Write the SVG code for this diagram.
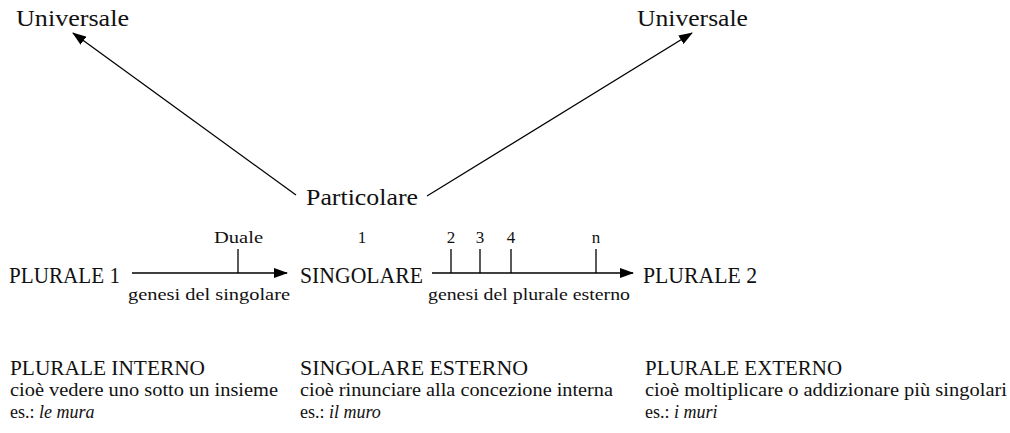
<svg xmlns="http://www.w3.org/2000/svg" width="1010" height="433" viewBox="0 0 1010 433">
<style>
text{font-family:"Liberation Serif","Times New Roman",serif;fill:#111;}
.xl{font-size:24px;}
.lg{font-size:23px;}
.hd{font-size:21px;}
.md{font-size:18px;}
.sm{font-size:17px;}
.it{font-style:italic;}
.ln{stroke:#000;stroke-width:1.3;fill:none;}
</style>
<defs>
<marker id="ah" viewBox="0 0 14 10" refX="13" refY="5" markerWidth="14" markerHeight="10" markerUnits="userSpaceOnUse" orient="auto">
<path d="M0,0 L14,5 L0,10 z" fill="#000"/>
</marker>
</defs>
<rect width="1010" height="433" fill="#fff"/>
<g id="universale-left"><text class="xl" x="16" y="26" textLength="113" lengthAdjust="spacingAndGlyphs">Universale</text></g>
<g id="universale-right"><text class="xl" x="637" y="26" textLength="111" lengthAdjust="spacingAndGlyphs">Universale</text></g>
<g id="particolare"><text class="xl" x="306" y="205" textLength="112" lengthAdjust="spacingAndGlyphs">Particolare</text></g>
<g id="plurale1"><text class="lg" x="9" y="283" textLength="111" lengthAdjust="spacingAndGlyphs">PLURALE 1</text></g>
<g id="singolare"><text class="lg" x="300" y="283" textLength="123" lengthAdjust="spacingAndGlyphs">SINGOLARE</text></g>
<g id="plurale2"><text class="lg" x="643" y="283" textLength="114" lengthAdjust="spacingAndGlyphs">PLURALE 2</text></g>
<g id="connectors">
<line class="ln" x1="296" y1="195" x2="73" y2="33" marker-end="url(#ah)"/>
<line class="ln" x1="427" y1="196" x2="692" y2="33" marker-end="url(#ah)"/>
<line class="ln" x1="132" y1="273" x2="287" y2="273" marker-end="url(#ah)"/>
<line class="ln" x1="432" y1="273" x2="633" y2="273" marker-end="url(#ah)"/>
<line class="ln" x1="238" y1="249" x2="238" y2="273"/>
<line class="ln" x1="451" y1="249" x2="451" y2="273"/>
<line class="ln" x1="480" y1="249" x2="480" y2="273"/>
<line class="ln" x1="511" y1="249" x2="511" y2="273"/>
<line class="ln" x1="596" y1="249" x2="596" y2="273"/>
</g>
<g id="tick-labels">
<text class="sm" x="214" y="243" textLength="49" lengthAdjust="spacingAndGlyphs">Duale</text>
<text class="sm" x="362" y="243" text-anchor="middle">1</text>
<text class="sm" x="451" y="243" text-anchor="middle">2</text>
<text class="sm" x="480" y="243" text-anchor="middle">3</text>
<text class="sm" x="511" y="243" text-anchor="middle">4</text>
<text class="sm" x="596" y="243" text-anchor="middle">n</text>
</g>
<g id="edge-labels">
<text class="sm" x="128" y="300" textLength="162" lengthAdjust="spacingAndGlyphs">genesi del singolare</text>
<text class="sm" x="428" y="300" textLength="202" lengthAdjust="spacingAndGlyphs">genesi del plurale esterno</text>
</g>
<g id="plurale-interno">
<text class="hd" x="10" y="375" textLength="195" lengthAdjust="spacingAndGlyphs">PLURALE INTERNO</text>
<text class="md" x="10" y="396" textLength="268" lengthAdjust="spacingAndGlyphs">cioè vedere uno sotto un insieme</text>
<text class="md" x="10" y="418">es.: <tspan class="it">le mura</tspan></text>
</g>
<g id="singolare-esterno">
<text class="hd" x="300" y="375" textLength="228" lengthAdjust="spacingAndGlyphs">SINGOLARE ESTERNO</text>
<text class="md" x="300" y="396" textLength="313" lengthAdjust="spacingAndGlyphs">cioè rinunciare alla concezione interna</text>
<text class="md" x="300" y="418">es.: <tspan class="it">il muro</tspan></text>
</g>
<g id="plurale-externo">
<text class="hd" x="645" y="375" textLength="197" lengthAdjust="spacingAndGlyphs">PLURALE EXTERNO</text>
<text class="md" x="645" y="396" textLength="362" lengthAdjust="spacingAndGlyphs">cioè moltiplicare o addizionare più singolari</text>
<text class="md" x="645" y="418">es.: <tspan class="it">i muri</tspan></text>
</g>
</svg>
